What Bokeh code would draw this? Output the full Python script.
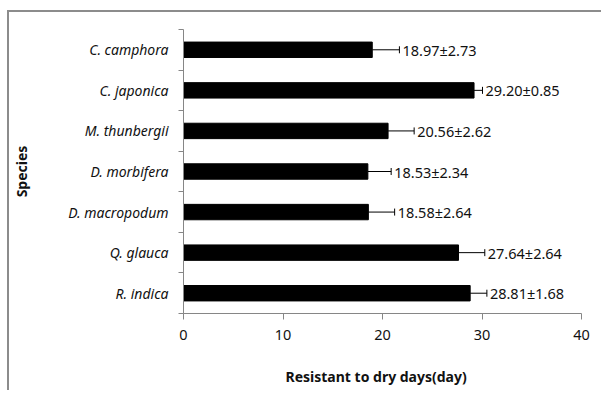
from bokeh.plotting import figure
from bokeh.models import ColumnDataSource, Whisker, TeeHead, FixedTicker, Range1d, Title
from bokeh.core.properties import value
from bokeh.embed import file_html
from bokeh.resources import INLINE

categories = ["C. camphora", "C. japonica", "M. thunbergii", "D. morbifera",
              "D. macropodum", "Q. glauca", "R. indica"]
means = [18.97, 29.20, 20.56, 18.53, 18.58, 27.64, 28.81]
sds = [2.73, 0.85, 2.62, 2.34, 2.64, 2.64, 1.68]
x_ticks = [0, 10, 20, 30, 40]

n = len(categories)
ypos = [n - 0.5 - i for i in range(n)]
src = ColumnDataSource(dict(
    y=ypos, mean=means, hi=[m + s for m, s in zip(means, sds)],
    txt=[f"{m:.2f}\u00b1{s:.2f}" for m, s in zip(means, sds)],
))

FONT = "Noto Sans"
GREY = "#868686"

p = figure(width=594, height=380, output_backend="svg", toolbar_location=None,
           x_range=Range1d(0, 40), y_range=Range1d(0, n),
           min_border_left=172, min_border_right=22, min_border_top=17, min_border_bottom=79)
p.styles = {"border-left": "2px solid #8c8c8c", "border-top": "2px solid #8c8c8c",
            "margin-left": "7px", "margin-top": "10px"}
p.outline_line_color = None
p.xgrid.visible = False
p.ygrid.visible = False

p.hbar(y="y", right="mean", left=0, height=0.38, source=src, color="black")
p.add_layout(Whisker(source=src, base="y", lower="mean", upper="hi", dimension="width",
                     line_color="black", line_width=1,
                     upper_head=TeeHead(size=7, line_color="black", line_width=1),
                     lower_head=None))
p.text(x="hi", y="y", text="txt", source=src, x_offset=3, text_baseline="middle",
       text_align="left", text_font=value(FONT), text_font_size="14.5px", text_color="#111111")

# x axis
xa = p.xaxis[0]
xa.ticker = FixedTicker(ticks=x_ticks, minor_ticks=[])
xa.axis_line_color = GREY
xa.major_tick_line_color = GREY
xa.major_tick_out = 6
xa.major_tick_in = 0
xa.minor_tick_line_color = None
xa.major_label_text_font = FONT
xa.major_label_text_font_size = "14.5px"
xa.major_label_text_color = "#111111"
xa.major_label_standoff = 10

# y axis
ya = p.yaxis[0]
ya.ticker = FixedTicker(ticks=ypos, minor_ticks=list(range(n + 1)))
ya.major_label_overrides = {y: c for y, c in zip(ypos, categories)}
ya.axis_line_color = GREY
ya.major_tick_line_color = None
ya.major_tick_out = 0
ya.major_tick_in = 0
ya.minor_tick_line_color = GREY
ya.minor_tick_out = 5
ya.minor_tick_in = 0
ya.major_label_text_font = FONT
ya.major_label_text_font_style = "italic"
ya.major_label_text_font_size = "14px"
ya.major_label_text_color = "#111111"
ya.major_label_standoff = 10
ya.axis_label = "Species"
ya.axis_label_text_font = FONT
ya.axis_label_text_font_style = "bold"
ya.axis_label_text_font_size = "14px"
ya.axis_label_text_color = "#111111"
ya.axis_label_standoff = 34

# spacer so that the axis title sits lower, as in the reference
p.add_layout(Title(text=" ", text_font=FONT, text_font_size="15px", standoff=0), "below")
p.add_layout(Title(text="Resistant to dry days(day)", align="left", offset=102,
                   text_font=FONT, text_font_style="bold", text_font_size="14px",
                   text_color="#111111", standoff=0), "below")

open("out.html", "w").write(file_html(p, INLINE))
